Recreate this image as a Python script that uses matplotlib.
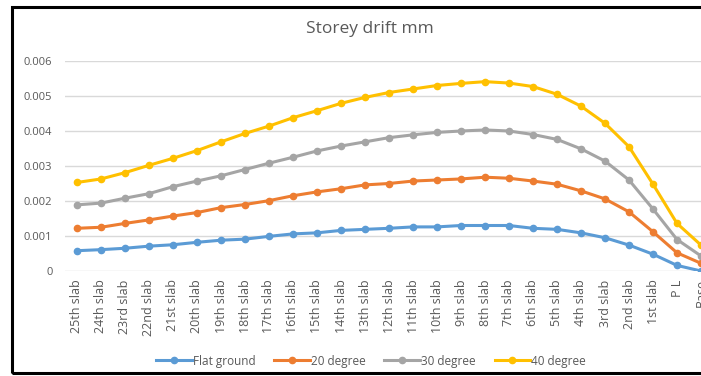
import matplotlib.pyplot as plt
from matplotlib.patches import Rectangle

# storeys, top to bottom
floors = ["25th slab", "24th slab", "23rd slab", "22nd slab", "21st slab",
          "20th slab", "19th slab", "18th slab", "17th slab", "16th slab",
          "15th slab", "14th slab", "13th slab", "12th slab", "11th slab",
          "10th slab", "9th slab", "8th slab", "7th slab", "6th slab",
          "5th slab", "4th slab", "3rd slab", "2nd slab", "1st slab",
          "P L", "Base"]

flat_ground = [0.00058, 0.00061, 0.00065, 0.00071, 0.00075, 0.00082, 0.00088,
               0.00091, 0.00099, 0.00106, 0.00109, 0.00116, 0.00119, 0.00122,
               0.00126, 0.00126, 0.00130, 0.00130, 0.00130, 0.00122, 0.00119,
               0.00109, 0.00095, 0.00074, 0.00048, 0.00016, 0.0]
deg20 = [0.00122, 0.00125, 0.00136, 0.00146, 0.00157, 0.00167, 0.00181,
         0.00190, 0.00201, 0.00215, 0.00226, 0.00235, 0.00246, 0.00250,
         0.00257, 0.00260, 0.00263, 0.00268, 0.00265, 0.00257, 0.00248,
         0.00229, 0.00206, 0.00169, 0.00112, 0.00052, 0.00022]
deg30 = [0.00189, 0.00194, 0.00208, 0.00221, 0.00241, 0.00257, 0.00272,
         0.00290, 0.00308, 0.00325, 0.00343, 0.00357, 0.00369, 0.00381,
         0.00389, 0.00396, 0.00400, 0.00403, 0.00400, 0.00390, 0.00376,
         0.00349, 0.00314, 0.00260, 0.00177, 0.00090, 0.00043]
deg40 = [0.00253, 0.00263, 0.00281, 0.00302, 0.00322, 0.00344, 0.00369,
         0.00393, 0.00414, 0.00438, 0.00458, 0.00479, 0.00496, 0.00510,
         0.00520, 0.00530, 0.00536, 0.00541, 0.00537, 0.00527, 0.00505,
         0.00471, 0.00422, 0.00355, 0.00248, 0.00136, 0.00074]

series = [("Flat ground", flat_ground, "#5B9BD5"),
          ("20 degree", deg20, "#ED7D31"),
          ("30 degree", deg30, "#A5A5A5"),
          ("40 degree", deg40, "#FFC000")]

plt.rcParams['font.family'] = ['Open Sans', 'DejaVu Sans']
grey_txt = "#595959"

W, H = 701, 376
fig = plt.figure(figsize=(W / 100, H / 100), dpi=100)

# plot area runs past the right edge (the source image is cropped)
ax = fig.add_axes([65 / W, 105 / H, 648 / W, 210 / H])
x = list(range(len(floors)))
for name, vals, col in series:
    ax.plot(x, vals, color=col, lw=2.2, marker="o", ms=4.5, label=name)

ax.set_xlim(-0.5, len(floors) - 0.5)
ax.set_ylim(0, 0.006)
ax.set_yticks([0, 0.001, 0.002, 0.003, 0.004, 0.005, 0.006])
ax.set_yticklabels(["0", "0.001", "0.002", "0.003", "0.004", "0.005", "0.006"])
ax.set_xticks(x)
ax.set_xticklabels(floors, rotation=90)
ax.tick_params(axis="both", length=0, colors=grey_txt)
ax.tick_params(axis="y", pad=9, labelsize=8)
ax.tick_params(axis="x", pad=6, labelsize=9)
ax.grid(axis="y", color="#D9D9D9", lw=1)
ax.set_axisbelow(True)
for s in ax.spines.values():
    s.set_visible(False)

fig.text(370 / W, 1 - 29 / H, "Storey drift mm", ha="center", va="center",
         fontsize=12.5, color=grey_txt)

fig.legend(loc="center", bbox_to_anchor=(371 / W, 1 - 361 / H), ncol=4,
           frameon=False, fontsize=8.5, handlelength=3, columnspacing=1.6,
           handletextpad=0.1, labelcolor=grey_txt)

# black frame around the chart (right side cropped off)
fig.patches.append(Rectangle((12 / W, 3 / H), 1.0, 1 - 10 / H,
                             transform=fig.transFigure, fill=False,
                             edgecolor="black", lw=2.2))

fig.savefig("out.png", dpi=100)
